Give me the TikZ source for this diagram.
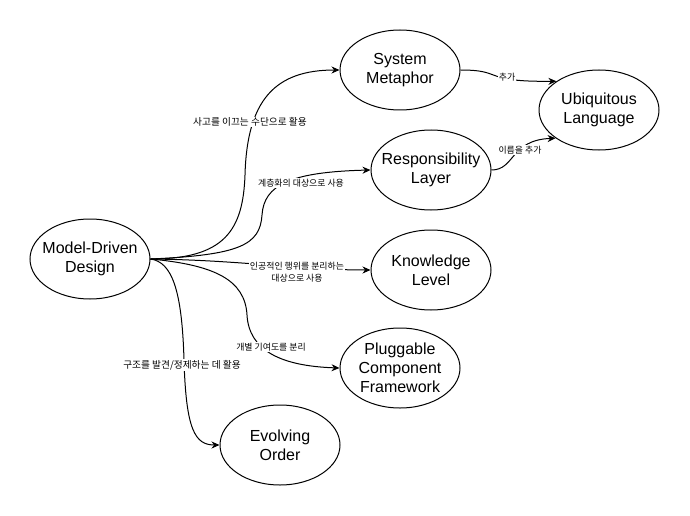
\documentclass[tikz,border=0pt]{standalone}
\usepackage{fontspec}
\setmainfont{Liberation Sans}
\newfontfamily\kor{Noto Sans CJK KR}
\usetikzlibrary{shapes.geometric,arrows.meta}

\begin{document}
\begin{tikzpicture}[x=1pt,y=-1pt,
    ell/.style={draw,ellipse,line width=1pt,minimum width=120pt,minimum height=80pt,
      inner sep=-20pt,align=center,font=\fontsize{16}{19.2}\selectfont},
    edge/.style={line width=1pt,-{Stealth[length=8pt,width=7pt]}},
    lbl/.style={fill=white,inner sep=1pt,align=center,font=\kor\fontsize{8.9}{12.5}\selectfont},
    lblbig/.style={lbl,font=\kor\fontsize{9.7}{12}\selectfont}]
    \useasboundingbox (0,0) rectangle (690,516);
    % concepts
    \foreach \n/\x/\y/\t in {mdd/90/259/{Model-Driven\\Design},
        sm/400/70/{System\\Metaphor},
        rl/431/170/{Responsibility\\Layer},
        ul/599/110/{Ubiquitous\\Language},
        kl/431/270/{Knowledge\\Level},
        pcf/400/368/{Pluggable\\Component\\Framework},
        eo/280/445/{Evolving\\Order}}
    \node[ell] (\n) at (\x,\y) {\t};
    % edges out of the model-driven design
    \draw[edge] (mdd.east) .. controls (225,259) and (243,230) .. (245,175)
      .. controls (247,100) and (275,70) .. (sm.west);
    \draw[edge] (mdd.east) .. controls (240,255) and (260,245) .. (262,215)
      .. controls (264,185) and (290,172) .. (rl.west);
    \draw[edge] (mdd.east) .. controls (240,260) and (300,270) .. (kl.west);
    \draw[edge] (mdd.east) .. controls (215,265) and (245,280) .. (247,315)
      .. controls (249,350) and (280,366) .. (pcf.west);
    \draw[edge] (mdd.east) .. controls (172,262) and (182,290) .. (184,360)
      .. controls (186,430) and (195,445) .. (eo.west);
    % into the ubiquitous language
    \draw[edge] (sm.east) .. controls (505,70) and (480,82) .. (ul.146);
    \draw[edge] (rl.east) .. controls (515,170) and (510,140) .. (ul.213);
    % labels
    \node[lblbig] (l1) at (250,122) {사고를 이끄는 수단으로 활용};
    \node[lbl] (l2) at (301,183) {계층화의 대상으로 사용};
    \node[lbl] (l3) at (297,272) {인공적인 행위를 분리하는\\대상으로 사용};
    \node[lbl] (l4) at (271,347) {개별 기여도를 분리};
    \node[lblbig] (l5) at (182,365) {구조를 발견/정제하는 데 활용};
    \node[lbl] (l6) at (507,77) {추가};
    \node[lbl] (l7) at (520,150) {이름을 추가};
\end{tikzpicture}
\end{document}
